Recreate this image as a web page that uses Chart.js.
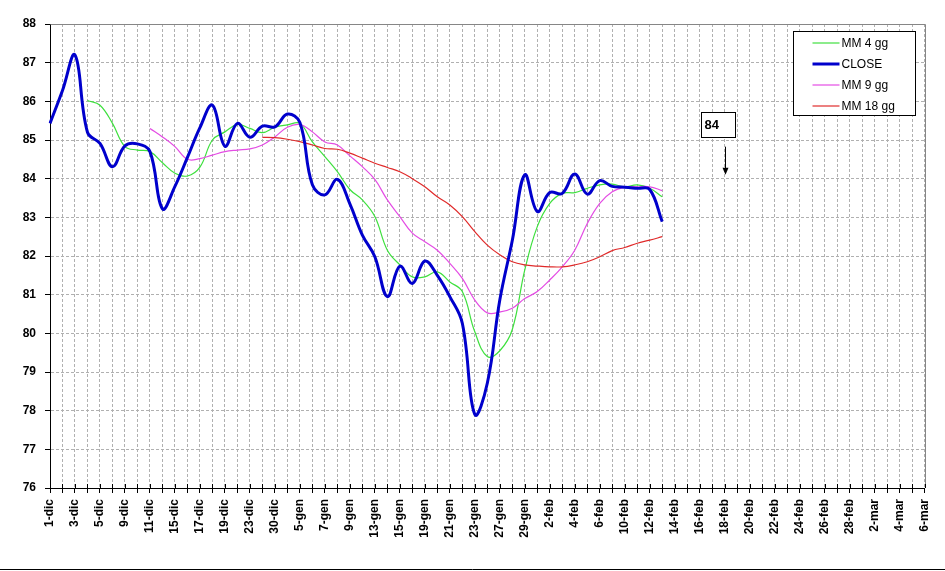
<!DOCTYPE html>
<html>
<head>
<meta charset="utf-8">
<script src="https://cdn.jsdelivr.net/npm/chart.js@4/dist/chart.umd.min.js"></script>
<style>
html,body{margin:0;padding:0;background:#fff;}
#wrap{width:945px;height:571px;position:relative;}
</style>
</head>
<body>
<div id="wrap"><canvas id="c" width="945" height="571"></canvas></div>
<script>
// ---- categories (trading days, then calendar days) ----
const categories = ['1-dic','2-dic','3-dic','4-dic','5-dic','8-dic','9-dic','10-dic','11-dic','12-dic',
  '15-dic','16-dic','17-dic','18-dic','19-dic','22-dic','23-dic','29-dic','30-dic','2-gen',
  '5-gen','6-gen','7-gen','8-gen','9-gen','12-gen','13-gen','14-gen','15-gen','16-gen',
  '19-gen','20-gen','21-gen','22-gen','23-gen','26-gen','27-gen','28-gen','29-gen','30-gen',
  '2-feb','3-feb','4-feb','5-feb','6-feb','9-feb','10-feb','11-feb','12-feb','13-feb',
  '14-feb','15-feb','16-feb','17-feb','18-feb','19-feb','20-feb','21-feb','22-feb','23-feb',
  '24-feb','25-feb','26-feb','27-feb','28-feb','1-mar','2-mar','3-mar','4-mar','5-mar','6-mar'];

// ---- series values ----
const close = [85.43,86.28,87.2,85.2,84.91,84.31,84.85,84.9,84.7,83.22,
  83.8,84.55,85.32,85.9,84.84,85.43,85.07,85.36,85.34,85.67,
  85.45,83.84,83.58,83.98,83.35,82.54,81.98,80.95,81.74,81.29,
  81.87,81.5,80.95,80.26,77.9,78.71,80.86,82.4,84.1,83.15,
  83.64,83.62,84.12,83.6,83.95,83.8,83.78,83.75,83.72,82.89];

const mm4 = [null,null,null,86.02,85.9,85.43,84.83,84.74,84.7,84.41,
  84.14,84.07,84.3,85.0,85.21,85.4,85.3,85.19,85.33,85.39,
  85.43,84.95,84.57,84.18,83.72,83.45,83.02,82.15,81.77,81.46,
  81.46,81.59,81.33,81.08,80.04,79.4,79.55,80.1,81.64,82.76,
  83.36,83.62,83.64,83.75,83.84,83.86,83.79,83.84,83.75,83.53];

const mm9 = [null,null,null,null,null,null,null,null,85.3,85.08,
  84.83,84.5,84.52,84.61,84.7,84.74,84.77,84.87,85.08,85.33,
  85.4,85.21,84.95,84.87,84.59,84.31,83.98,83.45,83.02,82.59,
  82.37,82.15,81.81,81.42,80.86,80.53,80.55,80.65,80.9,81.08,
  81.38,81.72,82.15,82.84,83.36,83.66,83.78,83.79,83.79,83.69];

const mm18 = [null,null,null,null,null,null,null,null,null,null,
  null,null,null,null,null,null,null,85.07,85.06,85.02,
  84.96,84.87,84.78,84.76,84.66,84.53,84.4,84.29,84.18,84.0,
  83.79,83.53,83.32,83.02,82.63,82.28,82.03,81.85,81.77,81.74,
  81.72,81.72,81.77,81.85,81.98,82.14,82.22,82.33,82.41,82.5];

// ---- axis ticks ----
const yMin = 76, yMax = 88, yStep = 1;

// ---- annotation ----
const annotText = '84';
const annotIndex = 54;   // 18-feb
const annotValue = 84;

const COL_GREEN = '#3ee03e', COL_BLUE = '#0000cc', COL_MAG = '#e44ce4', COL_RED = '#e02a2a';
const FONT = "Arial, 'Liberation Sans', sans-serif";

const extrasPlugin = {
  id: 'extras',
  beforeDraw(chart) {
    const ctx = chart.ctx;
    ctx.save();
    ctx.fillStyle = '#fff';
    ctx.fillRect(0, 0, chart.width, chart.height);
    ctx.restore();
  },
  afterDraw(chart) {
    const ctx = chart.ctx;
    const a = chart.chartArea;
    const xs = chart.scales.x, ys = chart.scales.y;
    ctx.save();
    // grey plot frame top/right
    ctx.strokeStyle = '#868686';
    ctx.lineWidth = 1;
    ctx.setLineDash([]);
    ctx.beginPath();
    ctx.moveTo(Math.round(a.left) + 0.5, Math.round(a.top) + 0.5);
    ctx.lineTo(Math.round(a.right) + 0.5, Math.round(a.top) + 0.5);
    ctx.lineTo(Math.round(a.right) + 0.5, Math.round(a.bottom));
    ctx.stroke();
    // x ticks crossing the axis (inner half)
    ctx.strokeStyle = '#000';
    ctx.beginPath();
    for (let i = 0; i < categories.length; i++) {
      const px = Math.round(xs.getPixelForValue(i)) + 0.5;
      ctx.moveTo(px, a.bottom - 4);
      ctx.lineTo(px, a.bottom);
    }
    ctx.stroke();
    // bottom frame line of the picture
    ctx.beginPath();
    ctx.moveTo(0, chart.height - 1.5);
    ctx.lineTo(chart.width, chart.height - 1.5);
    ctx.stroke();

    // legend box
    const items = [
      {label: 'MM 4 gg', color: COL_GREEN, w: 1.2},
      {label: 'CLOSE', color: COL_BLUE, w: 3},
      {label: 'MM 9 gg', color: COL_MAG, w: 1.2},
      {label: 'MM 18 gg', color: COL_RED, w: 1.2}
    ];
    const bx = Math.round(a.right) - 131.5, by = 31.5, bw = 122, bh = 84;
    ctx.fillStyle = '#fff';
    ctx.fillRect(bx, by, bw, bh);
    ctx.strokeStyle = '#000';
    ctx.lineWidth = 1;
    ctx.strokeRect(bx, by, bw, bh);
    ctx.font = '12px ' + FONT;
    ctx.textBaseline = 'middle';
    ctx.textAlign = 'left';
    items.forEach((it, k) => {
      const yy = by + 11.5 + k * 21;
      ctx.strokeStyle = it.color;
      ctx.lineWidth = it.w;
      ctx.beginPath();
      ctx.moveTo(bx + 19, yy);
      ctx.lineTo(bx + 46, yy);
      ctx.stroke();
      ctx.fillStyle = '#000';
      ctx.fillText(it.label, bx + 48, yy + 1);
    });

    // annotation box + arrow
    const ax = Math.round(xs.getPixelForValue(annotIndex)) + 0.5;
    const ay = ys.getPixelForValue(annotValue);
    const boxL = ax - 24, boxT = Math.round(ay - 67) + 0.5;
    ctx.fillStyle = '#fff';
    ctx.fillRect(boxL, boxT, 34, 25);
    ctx.strokeStyle = '#000';
    ctx.lineWidth = 1;
    ctx.strokeRect(boxL, boxT, 34, 25);
    ctx.fillStyle = '#000';
    ctx.font = 'bold 13px ' + FONT;
    ctx.textBaseline = 'alphabetic';
    ctx.fillText(annotText, boxL + 3, boxT + 16);
    ctx.beginPath();
    ctx.moveTo(ax, ay - 32);
    ctx.lineTo(ax, ay - 10);
    ctx.stroke();
    ctx.beginPath();
    ctx.moveTo(ax - 3, ay - 11);
    ctx.lineTo(ax + 3, ay - 11);
    ctx.lineTo(ax, ay - 4);
    ctx.closePath();
    ctx.fill();
    ctx.restore();
  }
};

new Chart(document.getElementById('c'), {
  type: 'line',
  data: {
    labels: categories,
    datasets: [
      {label: 'MM 4 gg', data: mm4, borderColor: COL_GREEN, borderWidth: 1.2, order: 3},
      {label: 'CLOSE', data: close, borderColor: COL_BLUE, borderWidth: 3, order: 0},
      {label: 'MM 9 gg', data: mm9, borderColor: COL_MAG, borderWidth: 1.2, order: 2},
      {label: 'MM 18 gg', data: mm18, borderColor: COL_RED, borderWidth: 1.2, order: 1}
    ]
  },
  options: {
    responsive: false,
    animation: false,
    events: [],
    elements: {
      point: {radius: 0},
      line: {tension: 0.4, fill: false, capBezierPoints: true}
    },
    layout: {padding: {top: 24, right: 20, left: 0, bottom: 0}},
    plugins: {legend: {display: false}, tooltip: {enabled: false}, title: {display: false}},
    scales: {
      x: {
        type: 'category',
        offset: false,
        grid: {color: '#b0b0b0', tickLength: 5, tickColor: '#000', lineWidth: 1},
        border: {display: true, color: '#000', width: 1, dash: [3, 2]},
        ticks: {
          autoSkip: false, minRotation: 90, maxRotation: 90, padding: 6, color: '#000',
          font: {family: FONT, size: 12, weight: 'bold'},
          callback: (v, i) => (i % 2 === 0 ? categories[i] : '')
        },
        afterFit: s => { s.height = 83; }
      },
      y: {
        min: yMin, max: yMax,
        grid: {color: '#b0b0b0', tickLength: 5, tickColor: '#000', lineWidth: 1},
        border: {display: true, color: '#000', width: 1, dash: [3, 2]},
        ticks: {
          stepSize: yStep, padding: 9, color: '#000',
          font: {family: FONT, size: 12, weight: 'bold'}
        },
        afterFit: s => { s.width = 50; }
      }
    }
  },
  plugins: [extrasPlugin]
});
</script>
</body>
</html>
